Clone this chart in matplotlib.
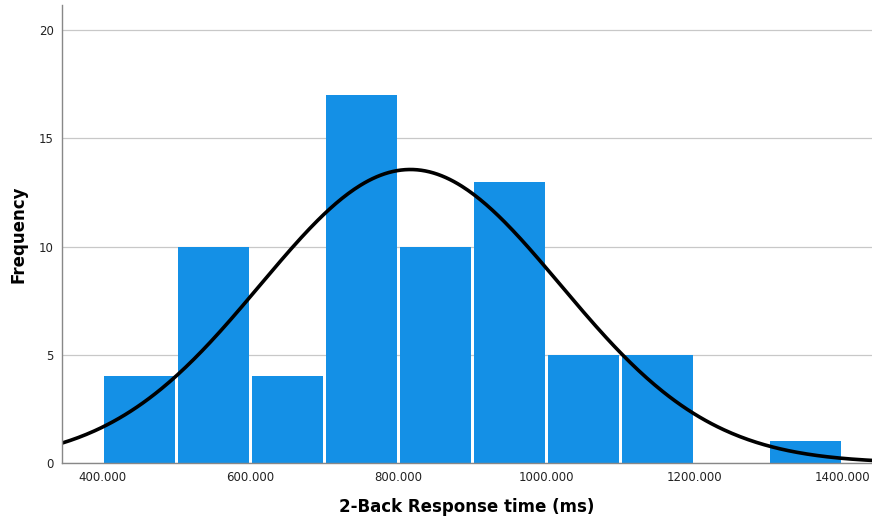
import numpy as np
import matplotlib.pyplot as plt

# histogram bins (ms) and counts
bin_edges = [400, 500, 600, 700, 800, 900, 1000, 1100, 1200, 1300, 1400]
counts = [4, 10, 4, 17, 10, 13, 5, 5, 0, 1]
x_ticks = [400, 600, 800, 1000, 1200, 1400]
y_ticks = [0, 5, 10, 15, 20]

# normal curve parameters
mean_rt = 816
sd_rt = 203
n_total = sum(counts)
bin_width = 100

fig = plt.figure(figsize=(8.72, 5.22), dpi=100)
ax = fig.add_axes([0.071, 0.113, 0.929, 0.877])

ax.set_axisbelow(True)
ax.yaxis.grid(True, color="#c8c8c8", linewidth=0.9)

# small white gap between neighbouring bars, like the SPSS output
gap = 2
lefts = [e + gap for e in bin_edges[:-1]]
ax.bar(lefts, counts, width=bin_width - 2 * gap, align="edge",
       color="#1490e6", linewidth=0)

xs = np.linspace(345, 1440, 400)
ys = n_total * bin_width * np.exp(-0.5 * ((xs - mean_rt) / sd_rt) ** 2) / (sd_rt * np.sqrt(2 * np.pi))
ax.plot(xs, ys, color="black", linewidth=2.6)

ax.set_xlim(345, 1440)
ax.set_ylim(0, 21.15)
ax.set_xticks(x_ticks)
ax.set_xticklabels([f"{v}.000" for v in x_ticks])
ax.set_yticks(y_ticks)
ax.tick_params(axis="both", length=0, labelsize=8.5, colors="#222222", pad=6)

for side in ["top", "right"]:
    ax.spines[side].set_visible(False)
for side in ["left", "bottom"]:
    ax.spines[side].set_color("#888888")
    ax.spines[side].set_linewidth(1)

ax.set_xlabel("2-Back Response time (ms)", fontsize=12, fontweight="bold", labelpad=10)
ax.set_ylabel("Frequency", fontsize=12, fontweight="bold", labelpad=8)

plt.savefig("out.png", dpi=100)
